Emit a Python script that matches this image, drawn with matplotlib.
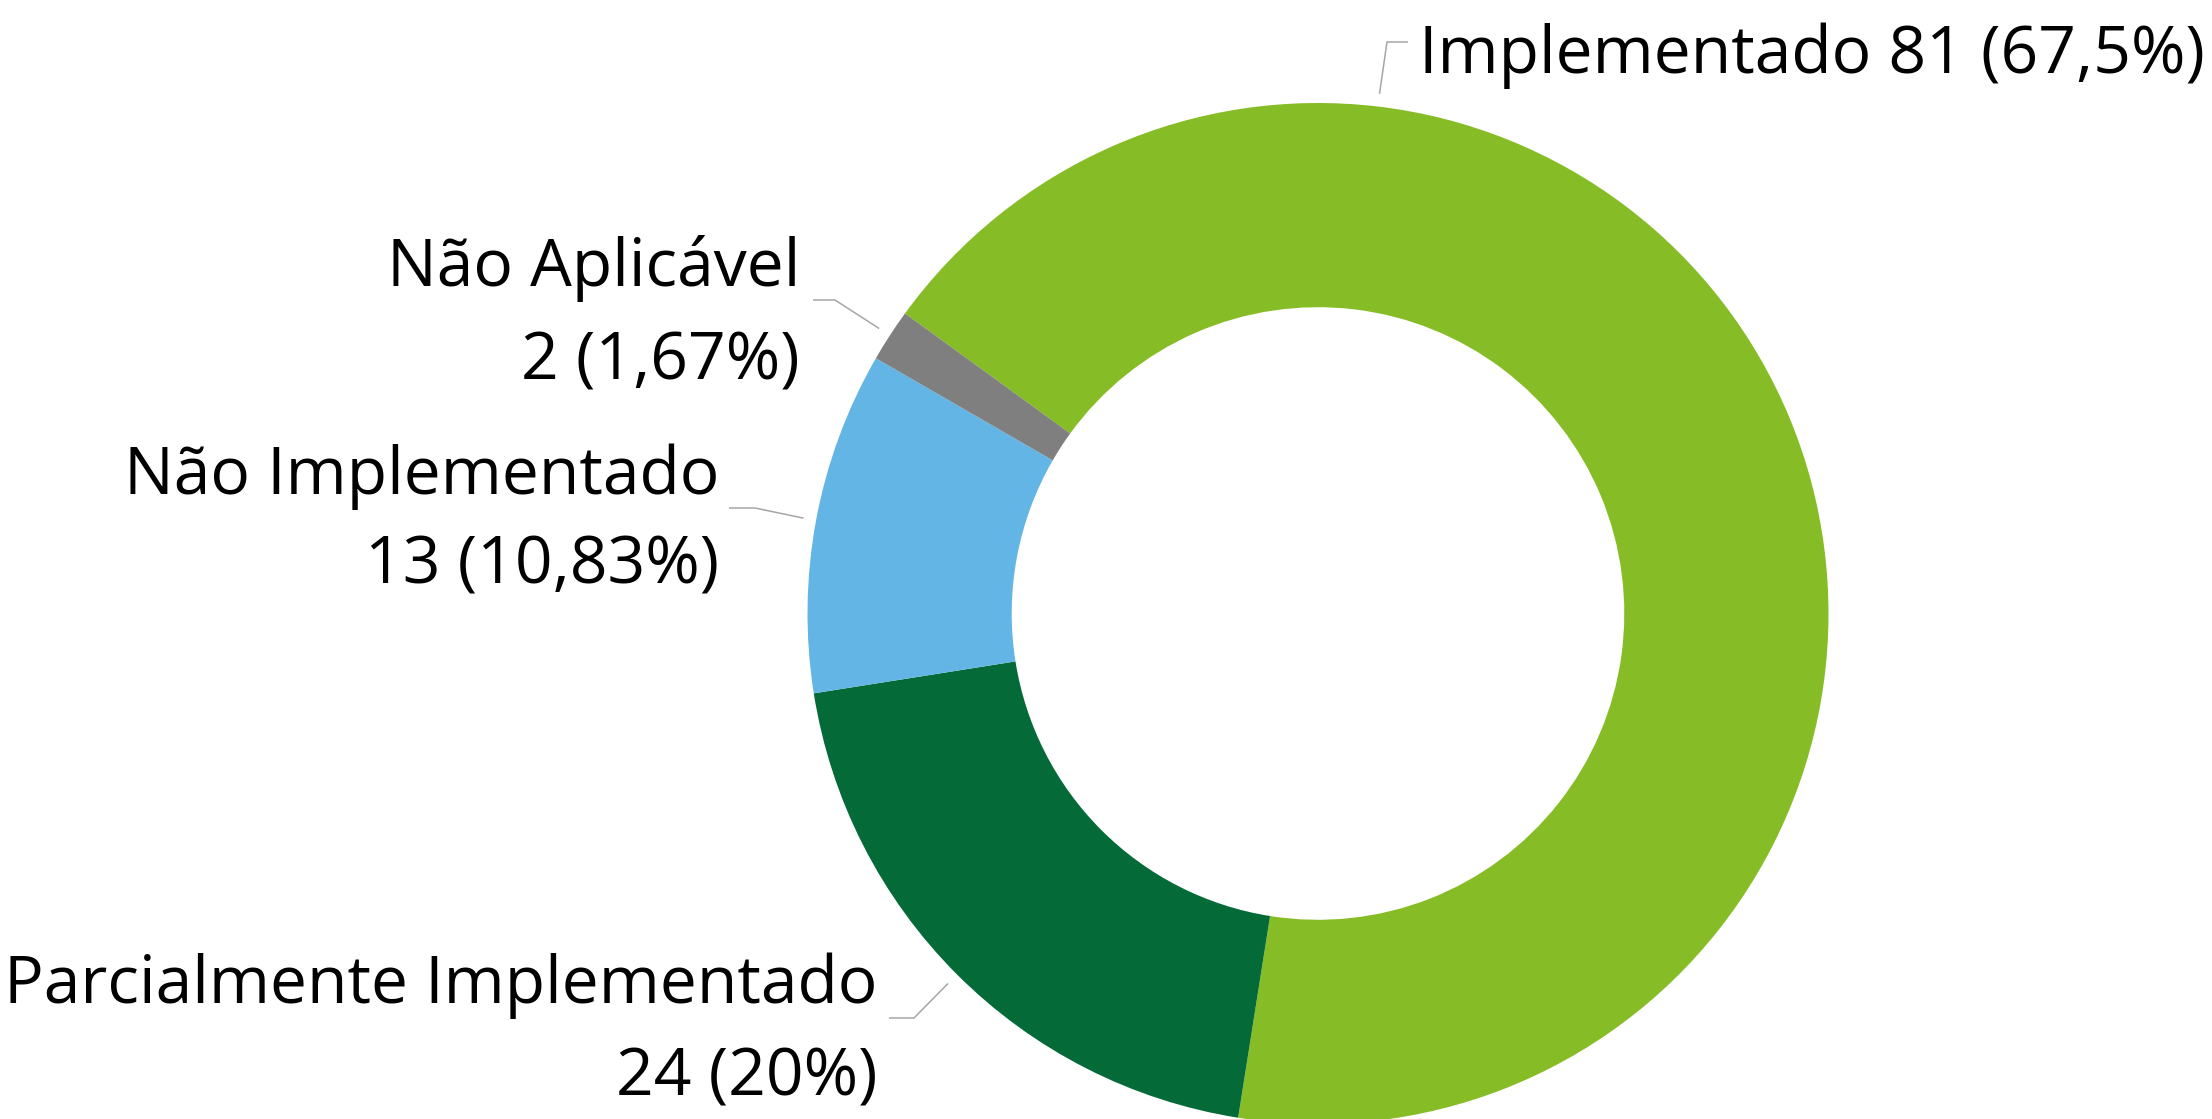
import numpy as np
import matplotlib.pyplot as plt

# data
categories = ["Implementado", "Parcialmente Implementado", "Não Implementado", "Não Aplicável"]
counts = [81, 24, 13, 2]
colors = ["#86BC25", "#046A38", "#62B5E5", "#7F7F7F"]

# layout, in pixels measured from the top-left corner of the picture
W, H = 2212, 1119
CENTER = (1318, 613.5)
RADIUS = 510.5
HOLE = 0.6
START = 144
# where each leader line leaves its slice (fraction of the wedge, clockwise)
ANCHOR_FRAC = [0.25, 0.5, 0.5, 0.5]
# leader elbow (x, y) and horizontal end x
ELBOWS = [(1387, 42, 1408), (914, 1018, 889), (755, 508, 729), (835, 300, 813)]
# text: x, baseline of line 1, baseline of line 2 (None = one line), alignment
TEXTS = [(1419, 73, None, "left"), (877, 1003, 1095, "right"),
         (719, 494, 584, "right"), (800, 286, 380, "right")]

FONT = ["Open Sans", "DejaVu Sans"]
FONTSIZE = 47.5
LEADER_COLOR = "#A6A6A6"


def up(y):
    return H - y


def fmt_pct(p):
    s = f"{p:.2f}".rstrip("0").rstrip(".")
    return s.replace(".", ",") + "%"


fig = plt.figure(figsize=(W / 100, H / 100), dpi=100)
ax = fig.add_axes([0, 0, 1, 1])

wedges, _ = ax.pie(counts, colors=colors, startangle=START, counterclock=False,
                   radius=RADIUS, center=(CENTER[0], up(CENTER[1])),
                   wedgeprops=dict(width=RADIUS * (1 - HOLE), linewidth=0))

total = sum(counts)
for i, w in enumerate(wedges):
    ang = np.deg2rad(w.theta2 - ANCHOR_FRAC[i] * (w.theta2 - w.theta1))
    ax_ = CENTER[0] + 1.025 * RADIUS * np.cos(ang)
    ay_ = up(CENTER[1]) + 1.025 * RADIUS * np.sin(ang)
    ex, ey, endx = ELBOWS[i]
    ax.plot([ax_, ex, endx], [ay_, up(ey), up(ey)], color=LEADER_COLOR, lw=1.1,
            solid_capstyle="butt", solid_joinstyle="miter")

    pct = fmt_pct(100 * counts[i] / total)
    x, b1, b2, ha = TEXTS[i]
    if b2 is None:
        ax.text(x, up(b1), f"{categories[i]} {counts[i]} ({pct})", ha=ha,
                va="baseline", fontsize=FONTSIZE, family=FONT)
    else:
        ax.text(x, up(b1), categories[i], ha=ha, va="baseline",
                fontsize=FONTSIZE, family=FONT)
        ax.text(x, up(b2), f"{counts[i]} ({pct})", ha=ha, va="baseline",
                fontsize=FONTSIZE, family=FONT)

ax.set_xlim(0, W)
ax.set_ylim(0, H)
ax.set_aspect("auto")
ax.axis("off")

fig.savefig("out.png", dpi=100, facecolor="white")
